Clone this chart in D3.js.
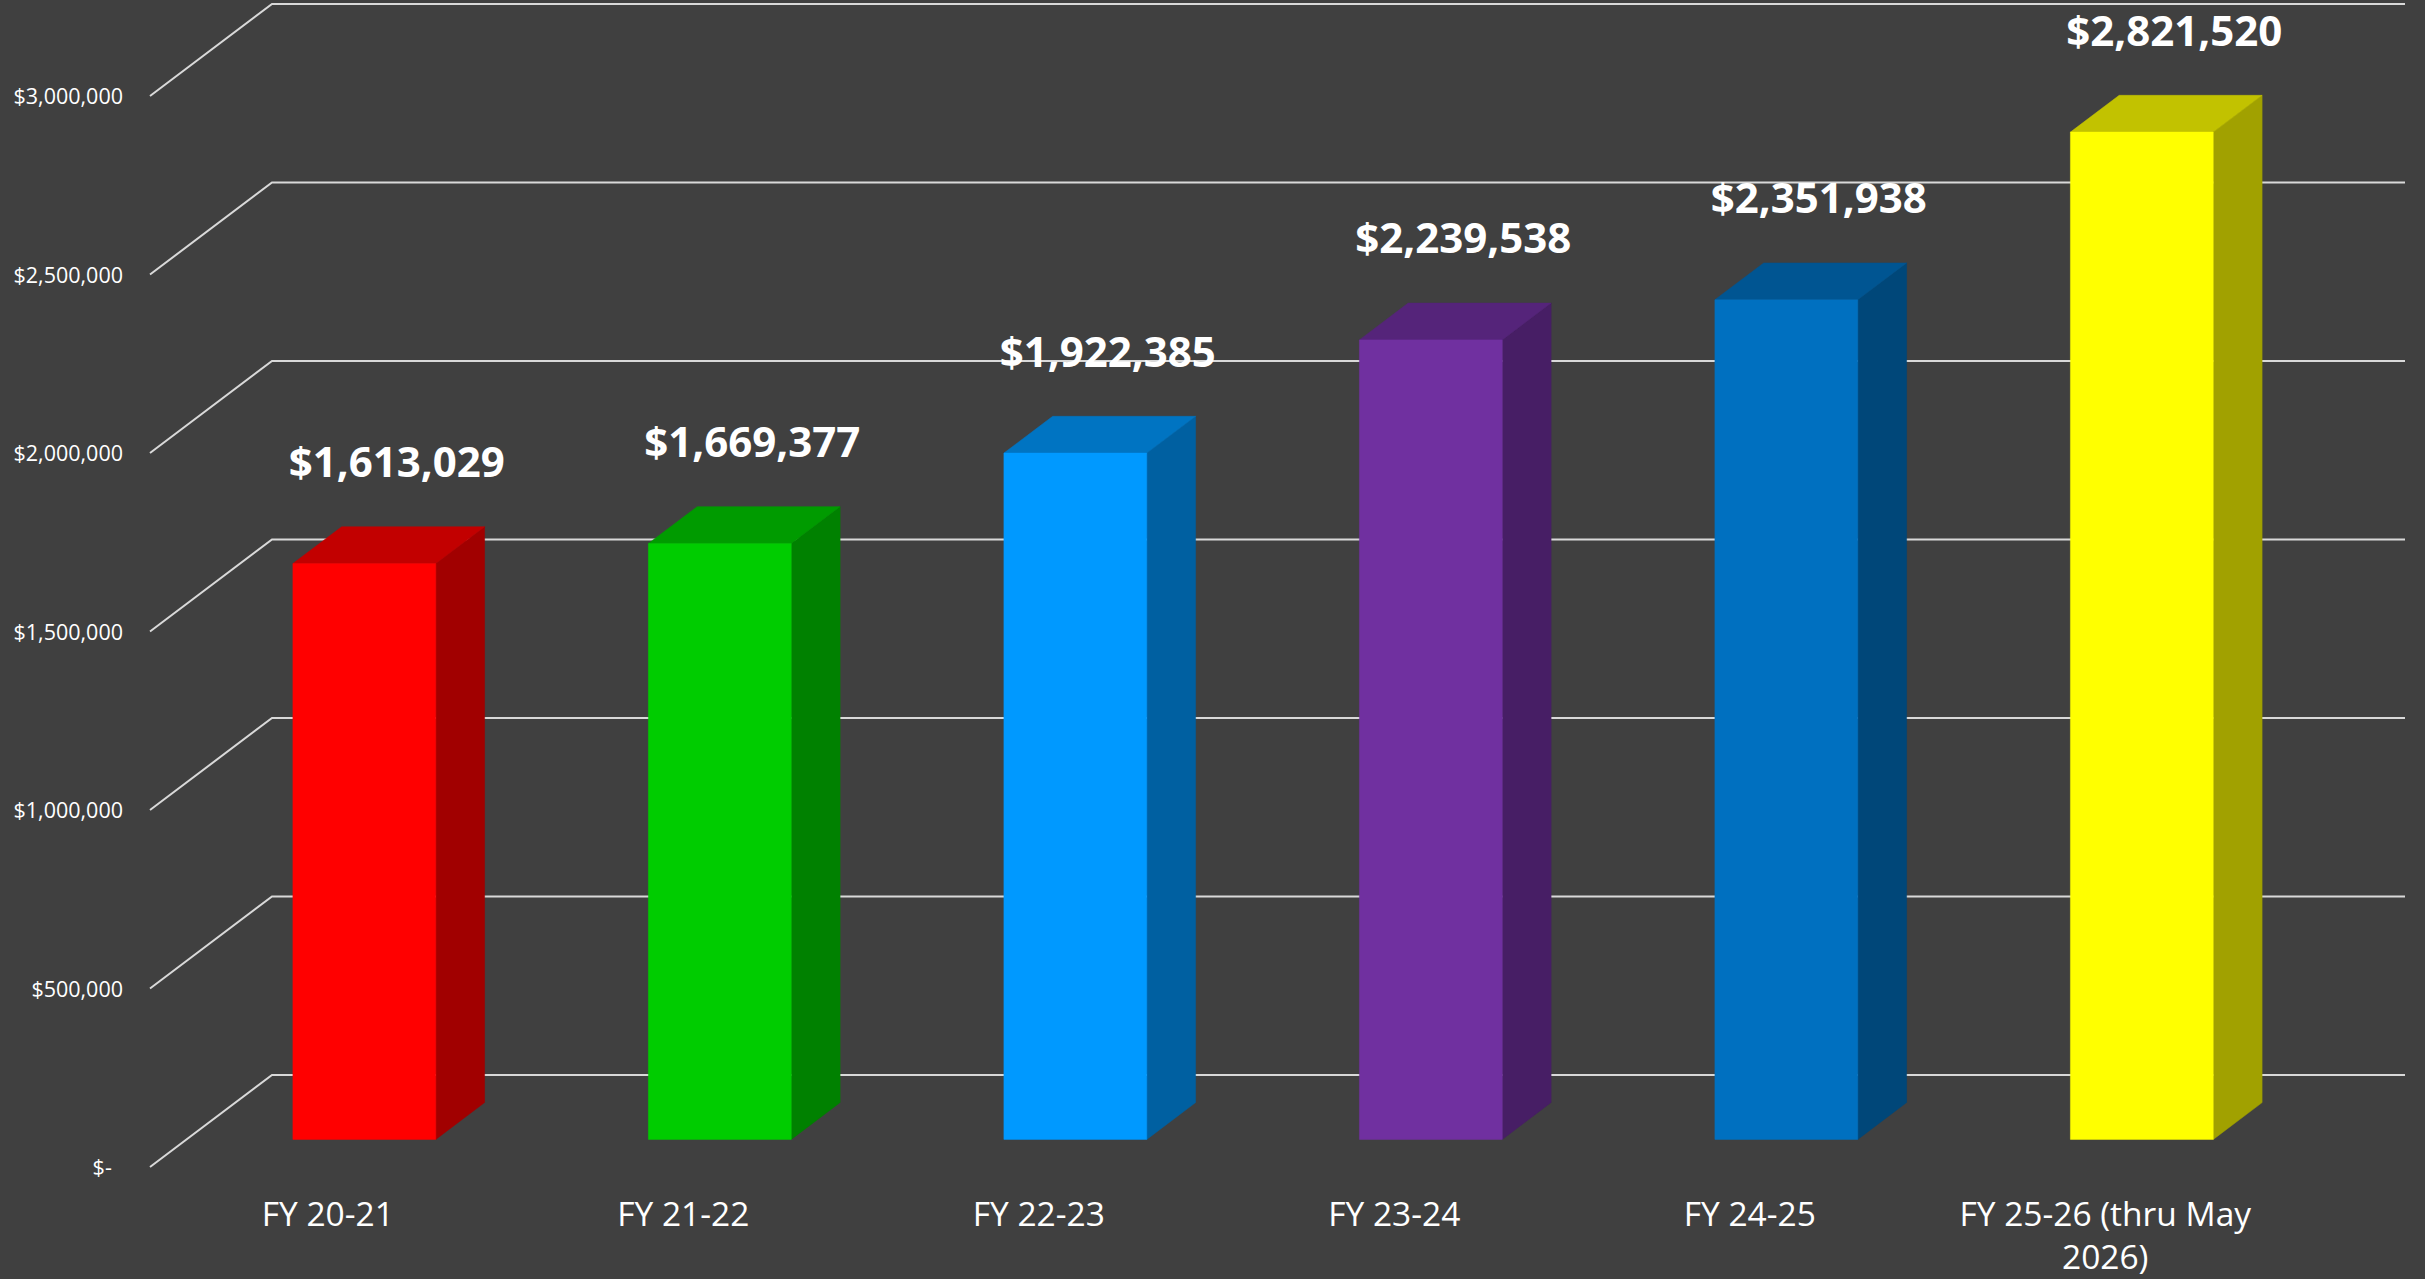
<!DOCTYPE html>
<html>
<head>
<meta charset="utf-8">
<script src="https://cdn.jsdelivr.net/npm/d3@7"></script>
<style>
  html, body { margin: 0; padding: 0; background: #404040; }
  svg { display: block; }
</style>
</head>
<body>
<svg id="chart" width="2425" height="1279"></svg>
<script>
// ---- data ----
const categories = ["FY 20-21", "FY 21-22", "FY 22-23", "FY 23-24", "FY 24-25", "FY 25-26 (thru May 2026)"];
const values = [1613029, 1669377, 1922385, 2239538, 2351938, 2821520];
const yTicks = [0, 500000, 1000000, 1500000, 2000000, 2500000, 3000000];
const barColors = ["#FF0000", "#00CC00", "#0099FF", "#7030A0", "#0070C0", "#FFFF00"];

// ---- layout ----
const W = 2425, H = 1279;
const plotLeft = 150, plotRight = 2283;   // front plane
const depthDX = 122, depthDY = -92;       // floor depth projection
const yFront0 = 1167, yFrontMax = 96;
const barFrac = 0.402;                    // bar width as fraction of band
const zFront = 0.30, zBack = 0.70;        // bar depth (fraction of floor depth)
const gridColor = "#d9d9d9";
const fontFamily = "'Open Sans', 'Noto Sans', sans-serif";

const svg = d3.select("#chart");
svg.append("rect").attr("width", W).attr("height", H).attr("fill", "#404040");

const x = d3.scaleBand().domain(categories).range([plotLeft, plotRight]).padding(0);
const y = d3.scaleLinear().domain([0, 3000000]).range([yFront0, yFrontMax]);

// projection of a point (front-plane x, front-plane y, depth t)
const P = (px, py, t) => [px + t * depthDX, py + t * depthDY];

const shade = (c, k) => { const r = d3.rgb(c); return d3.rgb(r.r * k, r.g * k, r.b * k).formatHex(); };

// ---- gridlines (left wall diagonal + back wall horizontal) ----
const grid = svg.append("g");
yTicks.forEach(v => {
  const a = P(plotLeft, y(v), 0);
  const b = P(plotLeft, y(v), 1);
  const c = P(plotRight, y(v), 1);
  grid.append("path")
    .attr("d", d3.line()([a, b, c]))
    .attr("fill", "none")
    .attr("stroke", gridColor)
    .attr("stroke-width", 2);
});

// ---- y axis labels ----
const fmt = d3.format(",");
const yAxis = d3.axisLeft(y)
  .tickValues(yTicks)
  .tickSize(0)
  .tickPadding(0)
  .tickFormat(d => d === 0 ? "$-\u00A0\u00A0" : "$" + fmt(d));
const yg = svg.append("g").attr("transform", "translate(123,0)").call(yAxis);
yg.select(".domain").remove();
yg.selectAll("text")
  .attr("fill", "#ffffff")
  .attr("font-family", fontFamily)
  .attr("font-size", 21.5)
  .attr("dy", "0.35em");

// ---- bars ----
const bw = x.bandwidth() * barFrac;
const bars = svg.append("g");
categories.forEach((cat, i) => {
  const v = values[i];
  const col = barColors[i];
  const xl = x(cat) + x.bandwidth() / 2 - bw / 2;
  const xr = xl + bw;
  const y0 = y(0), y1 = y(v);
  const f = [P(xl, y1, zFront), P(xr, y1, zFront), P(xr, y0, zFront), P(xl, y0, zFront)];
  const s = [P(xr, y1, zFront), P(xr, y1, zBack), P(xr, y0, zBack), P(xr, y0, zFront)];
  const t = [P(xl, y1, zFront), P(xl, y1, zBack), P(xr, y1, zBack), P(xr, y1, zFront)];
  const poly = pts => "M" + pts.map(p => p.join(",")).join("L") + "Z";
  bars.append("path").attr("d", poly(s)).attr("fill", shade(col, 0.63)).attr("stroke", shade(col, 0.63)).attr("stroke-width", 0.5);
  bars.append("path").attr("d", poly(t)).attr("fill", shade(col, 0.76)).attr("stroke", shade(col, 0.76)).attr("stroke-width", 0.5);
  bars.append("path").attr("d", poly(f)).attr("fill", col).attr("stroke", col).attr("stroke-width", 0.5);
});

// ---- value labels ----
const vlab = svg.append("g");
categories.forEach((cat, i) => {
  const cx = x(cat) + x.bandwidth() / 2;
  const top = P(cx, y(values[i]), 0.5);
  vlab.append("text")
    .attr("x", top[0] + 8)
    .attr("y", top[1] - 68)
    .attr("text-anchor", "middle")
    .attr("fill", "#ffffff")
    .attr("font-family", fontFamily)
    .attr("font-weight", 700)
    .attr("font-size", 42)
    .text("$" + fmt(values[i]));
});

// ---- x axis labels ----
const xAxis = d3.axisBottom(x).tickSize(0).tickPadding(35);
const xg = svg.append("g").attr("transform", `translate(0,${yFront0})`).call(xAxis);
xg.select(".domain").remove();
xg.selectAll("text")
  .attr("fill", "#ffffff")
  .attr("font-family", fontFamily)
  .attr("font-size", 33.5)
  .each(function () {
    const text = d3.select(this);
    const words = text.text().split(/\s+/);
    const maxW = x.bandwidth() - 20;
    const yv = text.attr("y");
    text.text(null);
    let line = [];
    let lineNo = 0;
    let tspan = text.append("tspan").attr("x", 0).attr("y", yv).attr("dy", "0.71em");
    words.forEach(w => {
      line.push(w);
      tspan.text(line.join(" "));
      if (tspan.node().getComputedTextLength() > maxW && line.length > 1) {
        line.pop();
        tspan.text(line.join(" "));
        line = [w];
        lineNo++;
        tspan = text.append("tspan").attr("x", 0).attr("y", yv)
          .attr("dy", (0.71 + lineNo * 1.28) + "em").text(w);
      }
    });
  });
</script>
</body>
</html>
